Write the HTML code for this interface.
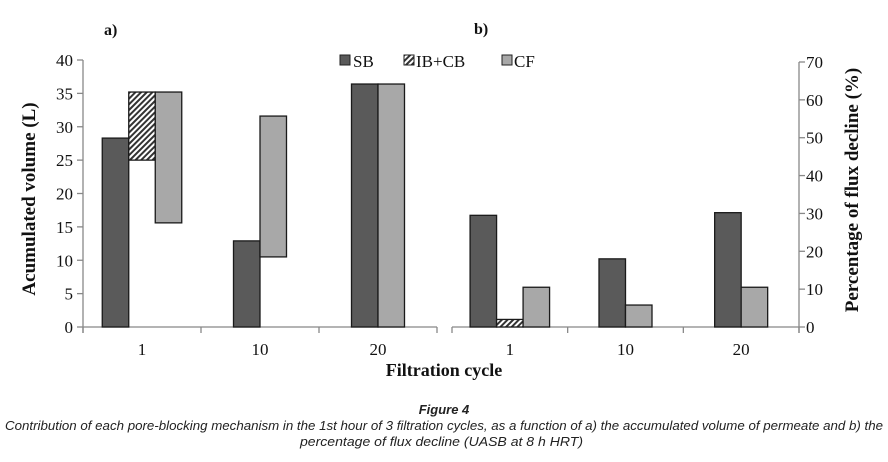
<!DOCTYPE html>
<html><head><meta charset="utf-8"><style>
html,body{margin:0;padding:0;background:#fff;}
svg{display:block;}
.t{font-family:"Liberation Serif",serif;fill:#111;}
.cap{font-family:"Liberation Sans",sans-serif;font-style:italic;fill:#222;}
</style></head><body>
<svg id="fig" width="888" height="462" viewBox="0 0 888 462">
<defs>
<pattern id="hatch" width="4" height="4" patternUnits="userSpaceOnUse" patternTransform="rotate(45)">
<rect width="4" height="4" fill="#fff"/><rect width="2" height="4" fill="#333"/>
</pattern>
</defs>
<g id="chartA"></g>
<g id="chartB"></g>
<text class="t" x="104" y="35" font-size="16" font-weight="bold">a)</text>
<text class="t" x="474" y="34" font-size="16" font-weight="bold">b)</text>
<g>
<g><rect x="340" y="55" width="10" height="10" fill="#5a5a5a" stroke="#222"/><text class="t" x="353" y="67" font-size="17">SB</text></g>
<g><rect x="404" y="55" width="10" height="10" fill="url(#hatch)" stroke="#222"/><text class="t" x="416" y="67" font-size="17">IB+CB</text></g>
<g><rect x="502" y="55" width="10" height="10" fill="#a8a8a8" stroke="#222"/><text class="t" x="514" y="67" font-size="17">CF</text></g>
</g>
<text class="t" transform="translate(35,199) rotate(-90)" text-anchor="middle" font-size="19" font-weight="bold">Acumulated  volume (L)</text>
<text class="t" transform="translate(858,190) rotate(-90)" text-anchor="middle" font-size="19" font-weight="bold">Percentage of flux decline  (%)</text>
<text class="t" x="444" y="376" text-anchor="middle" font-size="18" font-weight="bold">Filtration cycle</text>
<text class="cap" x="444" y="414" text-anchor="middle" font-size="13" font-weight="bold">Figure 4</text>
<text class="cap" x="5" y="430" font-size="13" textLength="878" lengthAdjust="spacingAndGlyphs">Contribution of each pore-blocking mechanism in the 1st hour of 3 filtration cycles, as a function of a) the accumulated volume of permeate and b) the</text>
<text class="cap" x="300" y="446" font-size="13" textLength="283" lengthAdjust="spacingAndGlyphs">percentage of flux decline (UASB at 8 h HRT)</text>
</svg>
<script>
const categories = ["1", "10", "20"];
// chart a: [low, high] per series (null = absent)
const aSB = [[0, 28.3], [0, 12.9], [0, 36.4]];
const aIBCB = [[25, 35.2], null, null];
const aCF = [[15.6, 35.2], [10.5, 31.6], [0, 36.4]];
const aTicks = [0, 5, 10, 15, 20, 25, 30, 35, 40];
// chart b
const bSB = [29.5, 18, 30.2];
const bIBCB = [2, null, null];
const bCF = [10.5, 5.8, 10.5];
const bTicks = [0, 10, 20, 30, 40, 50, 60, 70];

const NS = "http://www.w3.org/2000/svg";
function mk(parent, tag, attrs) {
  const e = document.createElementNS(NS, tag);
  for (const k in attrs) e.setAttribute(k, attrs[k]);
  parent.appendChild(e);
  return e;
}
const fills = ["#5a5a5a", "url(#hatch)", "#a8a8a8"];
const snames = ["sb", "ib-cb", "cf"];

function drawChart(g, opt) {
  const {x0, x1, y0, yTop, max, ticks, series, axisSide} = opt;
  const y = v => y0 - (v / max) * (y0 - yTop);
  const band = (x1 - x0) / categories.length;
  const cx = i => x0 + band * (i + 0.5);
  const bw = 26.5;
  const ax = axisSide === "left" ? x0 : x1;
  const yl = mk(g, "line", {x1: ax, y1: y(max), x2: ax, y2: y0 + 6, stroke: "#888", "stroke-width": 1.3});
  
  
  const xl = mk(g, "line", {x1: x0, y1: y0, x2: x1, y2: y0, stroke: "#888", "stroke-width": 1.3});
  
  
  for (let i = 0; i <= categories.length; i++) {
    const tx = x0 + band * i;
    mk(g, "line", {x1: tx, y1: y0, x2: tx, y2: y0 + 6, stroke: "#888", "stroke-width": 1.3});
  }
  ticks.forEach(t => {
    const ty = y(t);
    mk(g, "line", {x1: axisSide === "left" ? ax - 6 : ax, y1: ty, x2: axisSide === "left" ? ax : ax + 6, y2: ty, stroke: "#888", "stroke-width": 1.3});
    const lb = mk(g, "text", {x: axisSide === "left" ? ax - 10 : ax + 7, y: ty + 6, "text-anchor": axisSide === "left" ? "end" : "start", "font-size": 17, class: "t"});
    lb.textContent = t;
    
    
  });
  categories.forEach((c, i) => {
    const lb = mk(g, "text", {x: cx(i), y: y0 + 28, "text-anchor": "middle", "font-size": 17, class: "t"});
    lb.textContent = c;
    
    
    const present = [];
    series.forEach((s, si) => { if (s[i] !== null) present.push(si); });
    const start = cx(i) - present.length * bw / 2;
    present.forEach((si, k) => {
      const v = series[si][i];
      const lo = Array.isArray(v) ? v[0] : 0;
      const hi = Array.isArray(v) ? v[1] : v;
      const r = mk(g, "rect", {x: start + k * bw, y: y(hi), width: bw, height: y(lo) - y(hi), fill: fills[si], stroke: "#1a1a1a", "stroke-width": 1.3});
      
      
    });
  });
}
drawChart(document.getElementById("chartA"), {x0: 83, x1: 437, y0: 327, yTop: 60, max: 40, ticks: aTicks, series: [aSB, aIBCB, aCF], axisSide: "left"});
drawChart(document.getElementById("chartB"), {x0: 452, x1: 799, y0: 327, yTop: 62, max: 70, ticks: bTicks, series: [bSB, bIBCB, bCF], axisSide: "right"});
</script>
</body></html>
